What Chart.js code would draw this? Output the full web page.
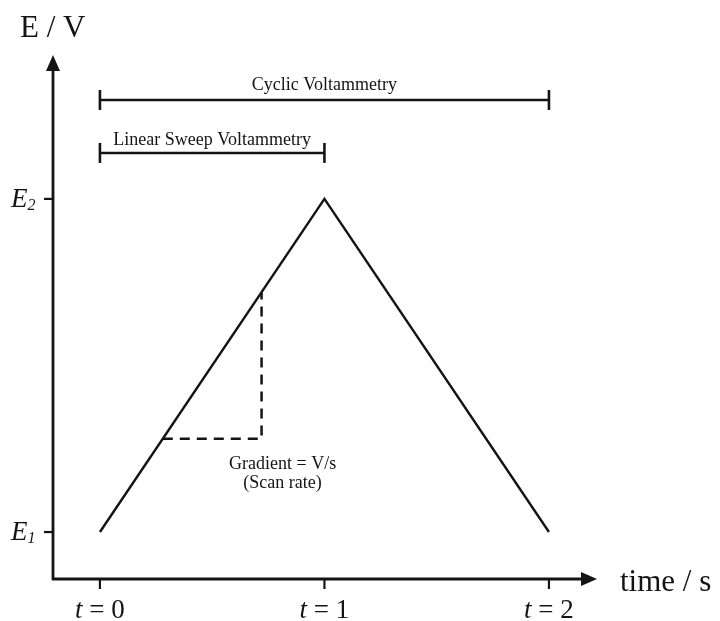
<!DOCTYPE html>
<html>
<head>
<meta charset="utf-8">
<script src="https://cdn.jsdelivr.net/npm/chart.js@4.4.1/dist/chart.umd.min.js"></script>
<style>
    html, body { margin: 0; padding: 0; background: #fff; }
    #wrap { width: 720px; height: 621px; position: relative; }
</style>
</head>
<body>
<div id="wrap"><canvas id="waveform"></canvas></div>
<script>
// potential sweep E1 -> E2 -> E1
const sweepTime = [0, 1, 2];
const sweepPotential = [1, 2, 1];

// dashed gradient triangle
const gradientTime = [0.28, 0.72, 0.72];
const gradientPotential = [1.28, 1.28, 1.72];

// technique brackets
const cyclicTime = [0, 2];
const cyclicLevel = [2.297, 2.297];
const linearTime = [0, 1];
const linearLevel = [2.138, 2.138];

const timeTicks = [0, 1, 2];
const timeTickLabels = ["0", "1", "2"];
const potentialTicks = [1, 2];
const potentialTickLabels = ["1", "2"];

const INK = "#141414";
const SERIF = "'Liberation Serif', 'DejaVu Serif', serif";

function toPoints(xs, ys) {
    return xs.map((x, i) => ({ x: x, y: ys[i] }));
}

const axesAndLabels = {
    id: "axesAndLabels",
    afterDraw(chart) {
        const {
            ctx,
            chartArea: { left, right, top, bottom },
            scales: { x, y },
        } = chart;

        ctx.save();
        ctx.strokeStyle = INK;
        ctx.fillStyle = INK;

        // Axes
        ctx.lineWidth = 2.8;
        ctx.beginPath();
        ctx.moveTo(left, bottom + 1);
        ctx.lineTo(left, top + 10);
        ctx.moveTo(left - 1, bottom);
        ctx.lineTo(right - 10, bottom);
        ctx.stroke();

        // Arrow heads
        ctx.beginPath();
        ctx.moveTo(left, top);
        ctx.lineTo(left - 7, top + 16);
        ctx.lineTo(left + 7, top + 16);
        ctx.closePath();
        ctx.fill();
        ctx.beginPath();
        ctx.moveTo(right, bottom);
        ctx.lineTo(right - 16, bottom - 7);
        ctx.lineTo(right - 16, bottom + 7);
        ctx.closePath();
        ctx.fill();

        // x ticks
        ctx.lineWidth = 2.2;
        timeTicks.forEach((v, i) => {
            const px = x.getPixelForValue(v);
            ctx.beginPath();
            ctx.moveTo(px, bottom);
            ctx.lineTo(px, bottom + 10);
            ctx.stroke();

            const italic = `italic 27px ${SERIF}`;
            const upright = `27px ${SERIF}`;
            const rest = " = " + timeTickLabels[i];
            ctx.font = italic;
            const w1 = ctx.measureText("t").width;
            ctx.font = upright;
            const w2 = ctx.measureText(rest).width;
            const x0 = px - (w1 + w2) / 2;
            ctx.textAlign = "left";
            ctx.textBaseline = "alphabetic";
            ctx.font = italic;
            ctx.fillText("t", x0, bottom + 39);
            ctx.font = upright;
            ctx.fillText(rest, x0 + w1, bottom + 39);
        });

        // y ticks
        potentialTicks.forEach((v, i) => {
            const py = y.getPixelForValue(v);
            ctx.beginPath();
            ctx.moveTo(left - 9, py);
            ctx.lineTo(left, py);
            ctx.stroke();

            ctx.textAlign = "left";
            ctx.font = `italic 27px ${SERIF}`;
            ctx.fillText("E", 11, py + 8);
            const wE = ctx.measureText("E").width;
            ctx.font = `italic 16px ${SERIF}`;
            ctx.fillText(potentialTickLabels[i], 11 + wE, py + 11);
        });

        // Axis titles
        ctx.font = `31px ${SERIF}`;
        ctx.textAlign = "left";
        ctx.fillText("E / V", 20, 37);
        ctx.fillText("time / s", 620, bottom + 12);

        // Bracket labels
        ctx.font = `18px ${SERIF}`;
        ctx.textAlign = "center";
        ctx.fillText("Cyclic Voltammetry", x.getPixelForValue(1), y.getPixelForValue(cyclicLevel[0]) - 10);
        ctx.fillText("Linear Sweep Voltammetry", x.getPixelForValue(0.5), y.getPixelForValue(linearLevel[0]) - 8);

        // Gradient note
        const cx = x.getPixelForValue(gradientTime[1]);
        const cy = y.getPixelForValue(gradientPotential[1]);
        ctx.fillText("Gradient = V/s", cx + 21, cy + 30);
        ctx.fillText("(Scan rate)", cx + 21, cy + 49);

        ctx.restore();
    },
};

const bracketStyle = {
    borderColor: INK,
    borderWidth: 2.6,
    pointStyle: "line",
    pointRotation: 90,
    pointRadius: 10,
    pointBorderWidth: 2.6,
    pointBorderColor: INK,
    clip: false,
};

new Chart(document.getElementById("waveform"), {
    type: "line",
    data: {
        datasets: [
            {
                data: toPoints(sweepTime, sweepPotential),
                borderColor: INK,
                borderWidth: 2.4,
                pointRadius: 0,
                tension: 0,
            },
            {
                data: toPoints(gradientTime, gradientPotential),
                borderColor: INK,
                borderWidth: 2.5,
                borderDash: [10, 7],
                pointRadius: 0,
                tension: 0,
            },
            Object.assign({ data: toPoints(cyclicTime, cyclicLevel) }, bracketStyle),
            Object.assign({ data: toPoints(linearTime, linearLevel) }, bracketStyle),
        ],
    },
    options: {
        responsive: true,
        maintainAspectRatio: false,
        animation: false,
        layout: {
            padding: { left: 53, right: 123, top: 55, bottom: 42 },
        },
        scales: {
            x: { type: "linear", min: -0.209, max: 2.214, display: false },
            y: { type: "linear", min: 0.859, max: 2.432, display: false },
        },
        plugins: {
            legend: { display: false },
            tooltip: { enabled: false },
        },
    },
    plugins: [axesAndLabels],
});
</script>
</body>
</html>
